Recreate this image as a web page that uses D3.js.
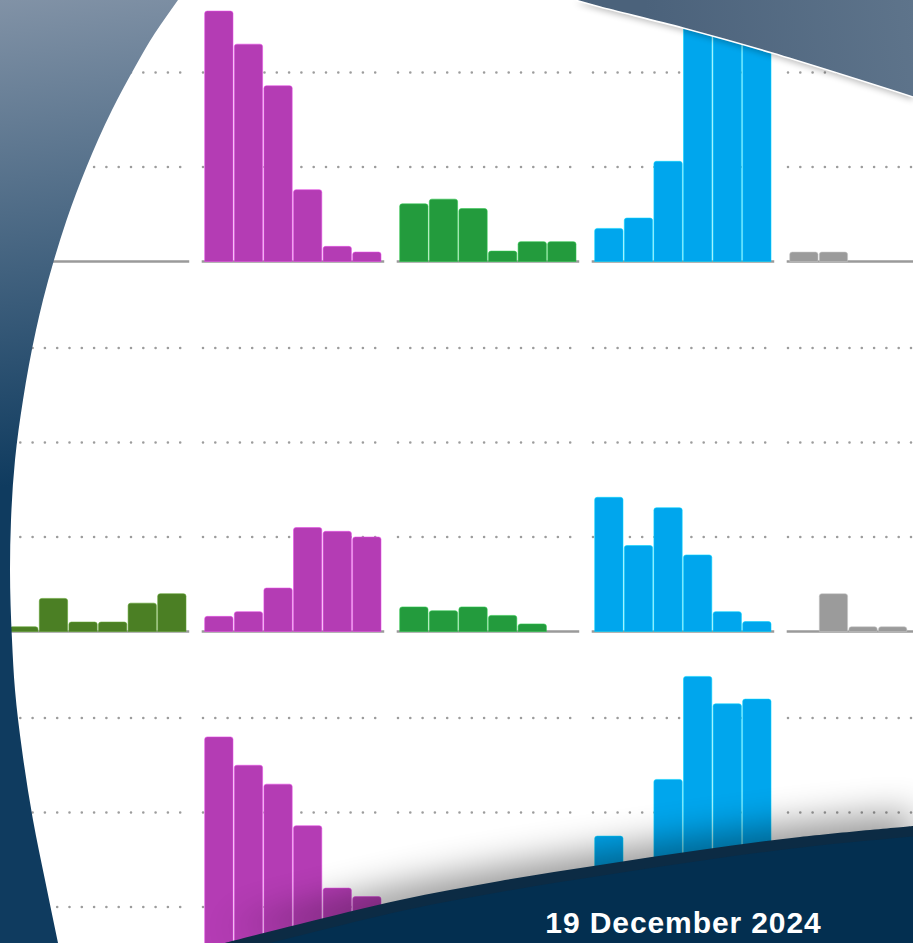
<!DOCTYPE html>
<html><head><meta charset="utf-8">
<script src="https://cdn.jsdelivr.net/npm/d3@7"></script>
<style>html,body{margin:0;padding:0;background:#fff;overflow:hidden}</style>
</head><body><svg id="c" width="913" height="943"></svg>
<script>
// ---- data ----
const columns = ["Group 1","Group 2","Group 3","Group 4","Group 5"];
const rowNames = ["Row 1","Row 2","Row 3"];
const barLabels = ["1","2","3","4","5","6"];
const columnColors = ["#4b7f24","#b43cb4","#239b3d","#00a6ed","#9b9b9b"];
const gridTicks = [10, 20, 30];
const dateLabel = "19 December 2024";

const row1Values = [
  [0, 0, 0, 0, 0, 0],
  [26.5, 23.0, 18.6, 7.6, 1.6, 1.0],
  [6.1, 6.6, 5.6, 1.1, 2.1, 2.1],
  [3.5, 4.6, 10.6, 30.5, 30.0, 29.5],
  [1.0, 1.0, 0, 0, 0, 0]
];
const row2Values = [
  [0.5, 3.5, 1.0, 1.0, 3.0, 4.0],
  [1.6, 2.1, 4.6, 11.0, 10.6, 10.0],
  [2.6, 2.2, 2.6, 1.7, 0.8, 0],
  [14.2, 9.1, 13.1, 8.1, 2.1, 1.05],
  [0, 4.0, 0.5, 0.5, 0, 0]
];
const row3Values = [
  [0, 0, 0, 0, 0, 0],
  [28.0, 25.0, 23.0, 18.6, 12.0, 11.1],
  [0, 0, 0, 0, 0, 0],
  [17.5, 10.0, 23.5, 34.4, 31.5, 32.0],
  [0, 0, 0, 0, 0, 0]
];
const allRows = [row1Values, row2Values, row3Values];

// ---- decoration outlines ----
const leftEdge = [[178,0],[166,17],[155,33],[135,67],[112,110],[86.5,167],[66.6,220],[54,260],[43,300],[36,330],[23,400],[15,460],[11,520],[10,570],[12,640],[15,690],[22,750],[33,820],[45,880],[58,943]];
const topEdge = [[575,0],[600,7],[683,28],[772,53],[913,97]];
const bottomEdge = [[225,943],[300,924],[400,900],[500,881],[600,865],[700,850],[800,837],[913,826]];

const W = 913, H = 943;
const svg = d3.select("#c");
const defs = svg.append("defs");

const lg = defs.append("linearGradient").attr("id","leftGrad")
  .attr("gradientUnits","userSpaceOnUse").attr("x1",0).attr("y1",0).attr("x2",60).attr("y2",480);
lg.append("stop").attr("offset",0).attr("stop-color","#8192a6");
lg.append("stop").attr("offset",1).attr("stop-color","#0f3b5f");

const tg = defs.append("linearGradient").attr("id","topGrad")
  .attr("gradientUnits","userSpaceOnUse").attr("x1",650).attr("y1",40).attr("x2",913).attr("y2",0);
tg.append("stop").attr("offset",0).attr("stop-color","#4b627b");
tg.append("stop").attr("offset",1).attr("stop-color","#5e748b");

const blur = defs.append("filter").attr("id","blur").attr("x","-20%").attr("y","-50%").attr("width","140%").attr("height","200%");
blur.append("feGaussianBlur").attr("stdDeviation",18);
const blur2 = defs.append("filter").attr("id","blur2").attr("x","-20%").attr("y","-50%").attr("width","140%").attr("height","200%");
blur2.append("feGaussianBlur").attr("stdDeviation",3);

svg.append("rect").attr("width",W).attr("height",H).attr("fill","#fff");

// ---- scales ----
const colScale = d3.scaleBand().domain(columns).range([6.7, 6.7 + 195*(5-0.064)]).paddingInner(0.064).paddingOuter(0);
const rowScale = d3.scaleBand().domain(rowNames).range([-22, -22 + 370*(3-0.2338)]).paddingInner(0.2338).paddingOuter(0);
const y = d3.scaleLinear().domain([0, 30]).range([rowScale.bandwidth(), 0]);
const xInner = d3.scaleBand().domain(barLabels).range([3, 179.3]).paddingInner(0.044).paddingOuter(0);

function topRounded(x, yTop, w, h, r) {
  if (h <= 0) return "";
  r = Math.min(r, h, w/2);
  return `M${x},${yTop+h}V${yTop+r}Q${x},${yTop} ${x+r},${yTop}H${x+w-r}Q${x+w},${yTop} ${x+w},${yTop+r}V${yTop+h}Z`;
}

const chart = svg.append("g");
rowNames.forEach((rn, ri) => {
  columns.forEach((cn, ci) => {
    const g = chart.append("g").attr("transform", `translate(${colScale(cn)},${rowScale(rn)})`);
    const pw = colScale.bandwidth();
    g.selectAll("line.grid").data(gridTicks).join("line").attr("class","grid")
      .attr("x1",1.3).attr("x2",174).attr("y1",d=>y(d)).attr("y2",d=>y(d))
      .attr("stroke","#9c9c9c").attr("stroke-width",2.6).attr("stroke-linecap","round")
      .attr("stroke-dasharray","0 12.3");
    g.append("line").attr("x1",0).attr("x2",pw).attr("y1",y(0)).attr("y2",y(0))
      .attr("stroke","#9a9a9a").attr("stroke-width",2.4);
    const vals = allRows[ri][ci];
    const col = columnColors[ci];
    g.selectAll("path.bar").data(vals.map((v,i)=>({v, k: barLabels[i]})).filter(d => d.v > 0)).join("path").attr("class","bar")
      .attr("d", d => topRounded(xInner(d.k), y(d.v), xInner.bandwidth(), y(0) - y(d.v), 2.5))
      .attr("fill", col)
      .attr("stroke", d3.color(col).brighter(0.7)).attr("stroke-width",0.8).attr("stroke-opacity",0.7);
  });
});

// ---- overlays ----
const curveL = d3.line().curve(d3.curveMonotoneY);
const curve = d3.line().curve(d3.curveCatmullRom.alpha(0.5));
// left dark region
svg.append("path").attr("d", "M0,0L" + curveL(leftEdge).slice(1) + `L0,${H}Z`).attr("fill","url(#leftGrad)");
// top right band with shadow
const topPath = "M" + curve(topEdge).slice(1) + `L${W},0Z`;
svg.append("path").attr("d", topPath).attr("fill","#000").attr("opacity",0.25)
  .attr("transform","translate(0,3)").attr("filter","url(#blur2)");
svg.append("path").attr("d", topPath).attr("fill","url(#topGrad)");
svg.append("path").attr("d", curve(topEdge)).attr("fill","none").attr("stroke","#fff").attr("stroke-width",1.6);

// bottom shadow
const bottomPath = "M" + curve(bottomEdge).slice(1) + `L${W},${H}Z`;
svg.append("path").attr("d", bottomPath).attr("fill","#000").attr("opacity",0.4)
  .attr("transform","translate(0,-14)").attr("filter","url(#blur)");
// bottom band: darker strip + body
svg.append("path").attr("d", bottomPath).attr("fill","#0c2b44");
svg.append("path").attr("d", bottomPath).attr("fill","#032f50").attr("transform","translate(6,10)");

svg.append("text").attr("x",683.5).attr("y",933)
  .attr("text-anchor","middle").attr("fill","#fff")
  .attr("font-family","'Liberation Sans', Arial, sans-serif").attr("font-weight","bold")
  .attr("font-size",30).attr("letter-spacing",0.9)
  .text(dateLabel);
</script></body></html>
